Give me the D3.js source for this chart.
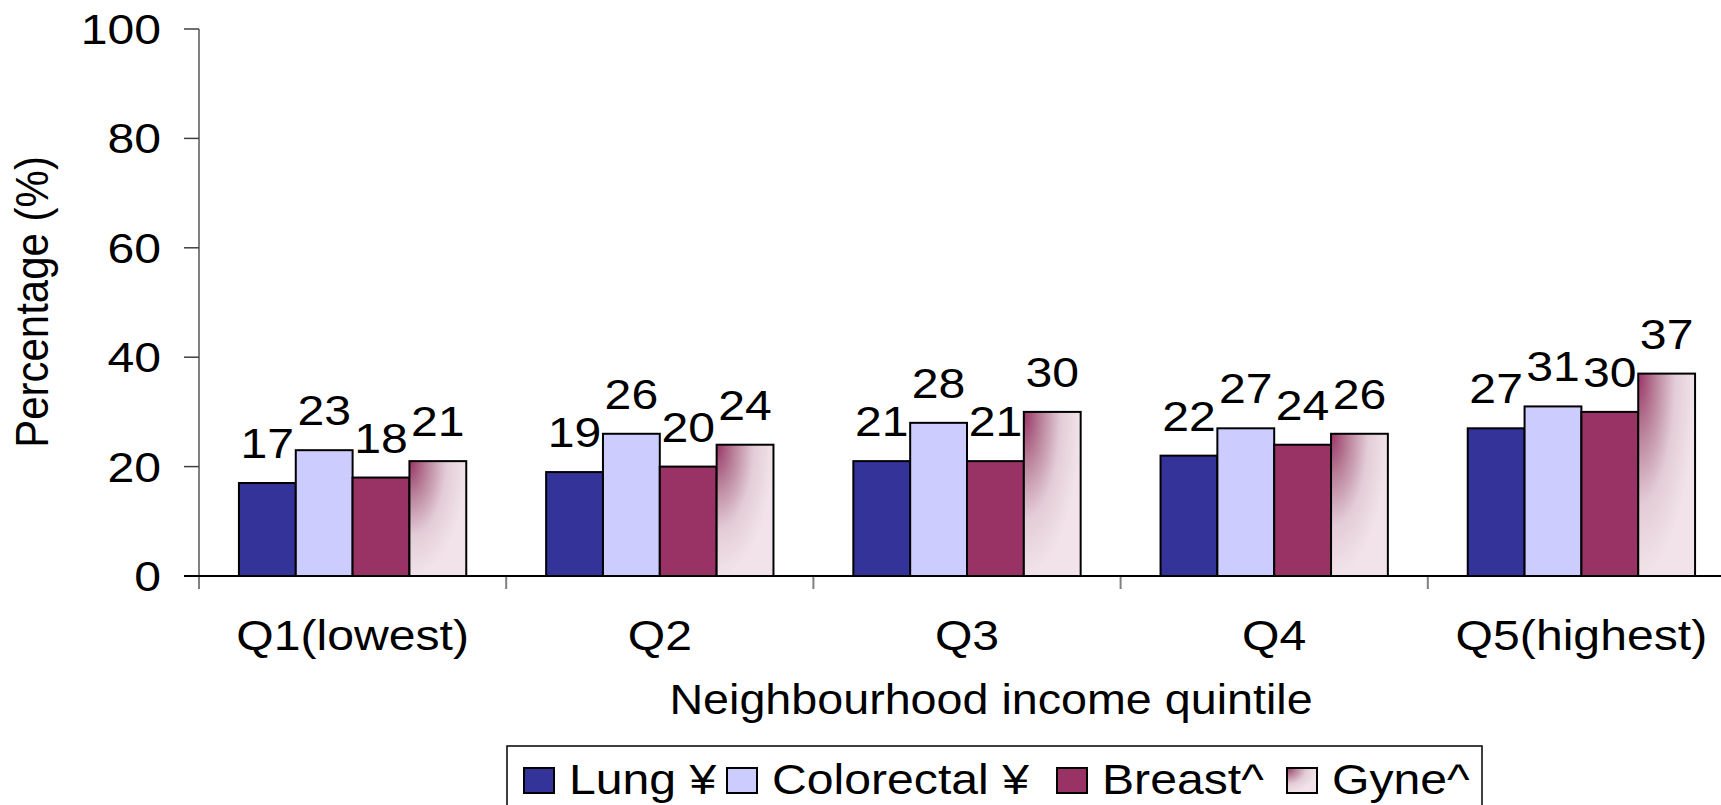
<!DOCTYPE html>
<html>
<head>
<meta charset="utf-8">
<script src="https://cdn.jsdelivr.net/npm/d3@7"></script>
<style>
  body { margin: 0; background: #fff; }
  text { font-family: "Liberation Sans", Arial, sans-serif; fill: #000; }
</style>
</head>
<body>
<div id="chart"></div>
<script>
var width = 1721, height = 805;

var quintiles = ["Q1(lowest)", "Q2", "Q3", "Q4", "Q5(highest)"];
var seriesNames = ["Lung ¥", "Colorectal ¥", "Breast^", "Gyne^"];
var lung = [17, 19, 21, 22, 27];
var colorectal = [23, 26, 28, 27, 31];
var breast = [18, 20, 21, 24, 30];
var gyne = [21, 24, 30, 26, 37];
var yTicks = [0, 20, 40, 60, 80, 100];

var series = [lung, colorectal, breast, gyne];
var fills = ["#333399", "#ccccff", "#993366", "url(#gyneGrad)"];

// text in the original is a bit stretched sideways
var sx = 1.12, fontSize = 43;

var svg = d3.select("#chart").append("svg")
    .attr("width", width)
    .attr("height", height);

var defs = svg.append("defs");
var grad = defs.append("radialGradient")
    .attr("id", "gyneGrad")
    .attr("cx", 0).attr("cy", 0).attr("r", 1)
    .attr("fx", 0).attr("fy", 0);
grad.append("stop").attr("offset", 0).attr("stop-color", "#993366");
grad.append("stop").attr("offset", 0.3).attr("stop-color", "#b98199");
grad.append("stop").attr("offset", 0.65).attr("stop-color", "#e3ccd7");
grad.append("stop").attr("offset", 1).attr("stop-color", "#f1e3e9");

var x0 = d3.scaleBand()
    .domain(quintiles)
    .range([199, 1735])
    .paddingInner(0.26)
    .paddingOuter(0.13);

var x1 = d3.scaleBand()
    .domain(d3.range(series.length))
    .range([0, x0.bandwidth()]);

var y = d3.scaleLinear()
    .domain([0, 100])
    .range([576, 29]);

function label(g, x, yy, str, anchor, rot, size, stretch) {
  return g.append("text")
    .attr("transform", "translate(" + x + "," + yy + ") scale(" + (stretch || sx) + ",1)" + (rot ? " rotate(" + rot + ")" : ""))
    .attr("text-anchor", anchor)
    .style("font-size", (size || fontSize) + "px")
    .text(str);
}

// y axis
svg.append("line")
    .attr("x1", 199).attr("x2", 199)
    .attr("y1", y(100)).attr("y2", y(0) + 13)
    .attr("stroke", "#808080").attr("stroke-width", 2);

svg.selectAll(".ytick")
  .data(yTicks)
  .enter().append("line")
    .attr("class", "ytick")
    .attr("x1", 184).attr("x2", 199)
    .attr("y1", function(d) { return y(d); })
    .attr("y2", function(d) { return y(d); })
    .attr("stroke", "#404040").attr("stroke-width", 1.5);

yTicks.forEach(function(d) {
  label(svg, 161, y(d) + 15, d, "end");
});

// category ticks at band edges
var edges = quintiles.map(function(q) { return x0(q) - x0.step() * x0.paddingOuter(); });
svg.selectAll(".xtick")
  .data(edges)
  .enter().append("line")
    .attr("class", "xtick")
    .attr("x1", function(d) { return d; })
    .attr("x2", function(d) { return d; })
    .attr("y1", y(0)).attr("y2", y(0) + 13)
    .attr("stroke", "#808080").attr("stroke-width", 2);

// bars
var groups = svg.selectAll(".grp")
  .data(quintiles)
  .enter().append("g")
    .attr("class", "grp")
    .attr("transform", function(d) { return "translate(" + x0(d) + ",0)"; });

groups.each(function(q, qi) {
  var g = d3.select(this);
  series.forEach(function(s, si) {
    g.append("rect")
      .attr("x", x1(si))
      .attr("y", y(s[qi]))
      .attr("width", x1.bandwidth())
      .attr("height", y(0) - y(s[qi]))
      .attr("fill", fills[si])
      .attr("stroke", "#000")
      .attr("stroke-width", 2);
  });
  series.forEach(function(s, si) {
    label(g, x1(si) + x1.bandwidth() / 2, y(s[qi]) - 25, s[qi], "middle");
  });
});

// x axis line
svg.append("line")
    .attr("x1", 184).attr("x2", width)
    .attr("y1", y(0)).attr("y2", y(0))
    .attr("stroke", "#000").attr("stroke-width", 2);

quintiles.forEach(function(q) {
  label(svg, x0(q) + x0.bandwidth() / 2, 650, q, "middle");
});

label(svg, 991, 714, "Neighbourhood income quintile", "middle", null, 43, 1.085);
label(svg, 48, 302, "Percentage (%)", "middle", -90, 42);

// legend
var legendX = [524, 727, 1057, 1287];
var legend = svg.append("g");
legend.append("rect")
    .attr("x", 507).attr("y", 746)
    .attr("width", 975).attr("height", 80)
    .attr("fill", "#fff")
    .attr("stroke", "#000").attr("stroke-width", 1.5);

seriesNames.forEach(function(name, i) {
  legend.append("rect")
    .attr("x", legendX[i]).attr("y", 768)
    .attr("width", 30).attr("height", 25)
    .attr("fill", fills[i])
    .attr("stroke", "#000").attr("stroke-width", 2);
  label(legend, legendX[i] + 45, 794, name, "start");
});
</script>
</body>
</html>
